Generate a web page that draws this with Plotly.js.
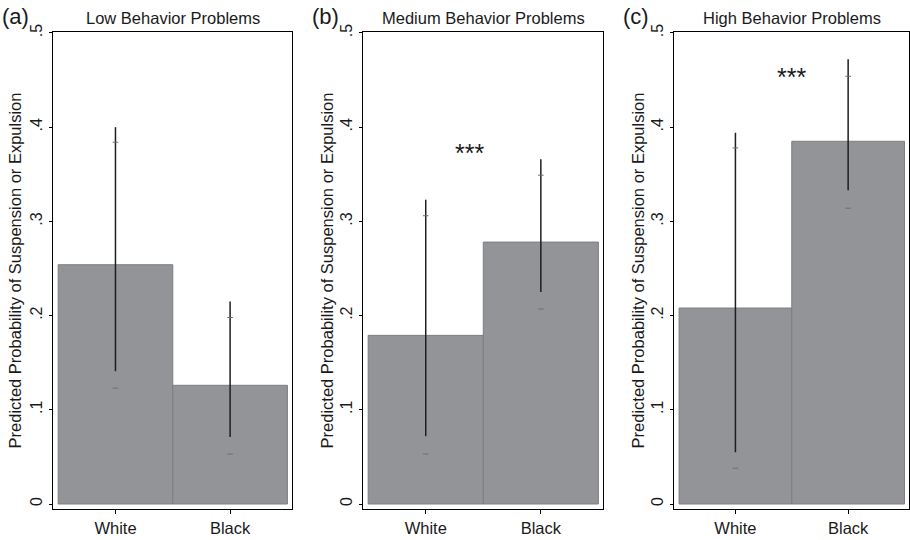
<!DOCTYPE html>
<html>
<head>
<meta charset="utf-8">
<script src="https://cdn.plot.ly/plotly-3.0.1.min.js"></script>
<style>html,body{margin:0;padding:0;background:#fff;}#chart{width:910px;height:540px;}</style>
</head>
<body>
<div id="chart"></div>
<script>
// ---- data ----
const categories = ['White', 'Black'];
const panelTitles = ['Low Behavior Problems', 'Medium Behavior Problems', 'High Behavior Problems'];
const panelLetters = ['(a)', '(b)', '(c)'];
const yTitle = 'Predicted Probability of Suspension or Expulsion';
const yTickVals = [0, 0.1, 0.2, 0.3, 0.4, 0.5];
const yTickText = ['0', '.1', '.2', '.3', '.4', '.5'];

// predicted probabilities (bar heights)
const predLow = [0.254, 0.126];
const predMed = [0.179, 0.278];
const predHigh = [0.208, 0.385];

// confidence interval caps (small grey marks)
const ciLoLow = [0.123, 0.053];
const ciHiLow = [0.384, 0.198];
const ciLoMed = [0.053, 0.207];
const ciHiMed = [0.306, 0.349];
const ciLoHigh = [0.038, 0.314];
const ciHiHigh = [0.378, 0.454];

// drawn interval spikes (black lines)
const spikeLoLow = [0.141, 0.071];
const spikeHiLow = [0.400, 0.215];
const spikeLoMed = [0.072, 0.225];
const spikeHiMed = [0.323, 0.366];
const spikeLoHigh = [0.055, 0.333];
const spikeHiHigh = [0.394, 0.472];

// significance markers
const sigText = ['', '***', '***'];
const sigX = [null, 0.38, 0.5];
const sigY = [null, 0.373, 0.453];

const panels = [
  {pred: predLow, lo: ciLoLow, hi: ciHiLow, slo: spikeLoLow, shi: spikeHiLow},
  {pred: predMed, lo: ciLoMed, hi: ciHiMed, slo: spikeLoMed, shi: spikeHiMed},
  {pred: predHigh, lo: ciLoHigh, hi: ciHiHigh, slo: spikeLoHigh, shi: spikeHiHigh}
];

// ---- layout geometry ----
const W = 910, H = 540;
const domainsPx = [[53, 292], [363, 603], [674, 909]];
const titleStandoff = [2, 0, 0];
const yRange = [-0.0053, 0.501];
const xRange = [-0.545, 1.54];
const FONT = 'Arial, "Liberation Sans", Helvetica, sans-serif';
const barColor = '#939498';
const barLine = '#7d7e81';

const traces = [];
const layout = {
  width: W, height: H,
  margin: {l: 0, r: 0, t: 32, b: 31, pad: 0},
  paper_bgcolor: '#ffffff', plot_bgcolor: '#ffffff',
  showlegend: false,
  bargap: 0,
  font: {family: FONT, color: '#1a1a1a', size: 14},
  annotations: []
};

panels.forEach((p, i) => {
  const sfx = i === 0 ? '' : String(i + 1);
  const xa = 'x' + sfx, ya = 'y' + sfx;
  traces.push({
    type: 'bar', x: categories, y: p.pred, xaxis: xa, yaxis: ya,
    marker: {color: barColor, line: {color: barLine, width: 1}},
    width: 1, hoverinfo: 'skip'
  });
  // spikes
  const sx = [], sy = [];
  categories.forEach((c, k) => { sx.push(c, c, null); sy.push(p.slo[k], p.shi[k], null); });
  traces.push({
    type: 'scatter', mode: 'lines', x: sx, y: sy, xaxis: xa, yaxis: ya,
    line: {color: '#1e1e1e', width: 1.5}, hoverinfo: 'skip'
  });
  // caps
  traces.push({
    type: 'scatter', mode: 'markers', x: categories.concat(categories), y: p.lo.concat(p.hi),
    xaxis: xa, yaxis: ya,
    marker: {symbol: 'line-ew', size: 4, line: {color: '#6f6f6f', width: 1}}, hoverinfo: 'skip'
  });

  layout['xaxis' + sfx] = {
    domain: [domainsPx[i][0] / W, domainsPx[i][1] / W],
    anchor: ya, type: 'category', range: xRange,
    showline: true, linecolor: '#000', linewidth: 1.3, mirror: true,
    ticks: 'outside', ticklen: 4, tickwidth: 1, tickcolor: '#000',
    tickfont: {family: FONT, size: 16.5, color: '#1a1a1a'},
    showgrid: false, zeroline: false, automargin: false, fixedrange: true
  };
  layout['yaxis' + sfx] = {
    domain: [0, 1], anchor: xa, range: yRange,
    tickmode: 'array', tickvals: yTickVals, ticktext: yTickText, tickangle: -90,
    showline: true, linecolor: '#000', linewidth: 1.3, mirror: true,
    ticks: 'outside', ticklen: 3, tickwidth: 1, tickcolor: '#000',
    tickfont: {family: FONT, size: 16, color: '#1a1a1a'},
    title: {text: yTitle, font: {family: FONT, size: 16.5, color: '#1a1a1a'}, standoff: titleStandoff[i]},
    showgrid: false, zeroline: false, automargin: false, fixedrange: true
  };
  layout.annotations.push({
    text: panelTitles[i], xref: xa + ' domain', yref: 'paper', x: 0.5, y: 1, yshift: 3,
    xanchor: 'center', yanchor: 'bottom', showarrow: false,
    font: {family: FONT, size: 16.5, color: '#1a1a1a'}
  });
  layout.annotations.push({
    text: panelLetters[i], xref: 'paper', yref: 'paper', x: (domainsPx[i][0] - 38) / W, y: 1, yshift: 1,
    xanchor: 'center', yanchor: 'bottom', showarrow: false,
    font: {family: FONT, size: 22, color: '#1a1a1a'}
  });
  if (sigText[i]) {
    layout.annotations.push({
      text: sigText[i], xref: xa, yref: ya, x: sigX[i], y: sigY[i],
      xanchor: 'center', yanchor: 'middle', showarrow: false,
      font: {family: FONT, size: 25, color: '#1a1a1a'}
    });
  }
});

Plotly.newPlot('chart', traces, layout, {staticPlot: true, displayModeBar: false});
</script>
</body>
</html>
